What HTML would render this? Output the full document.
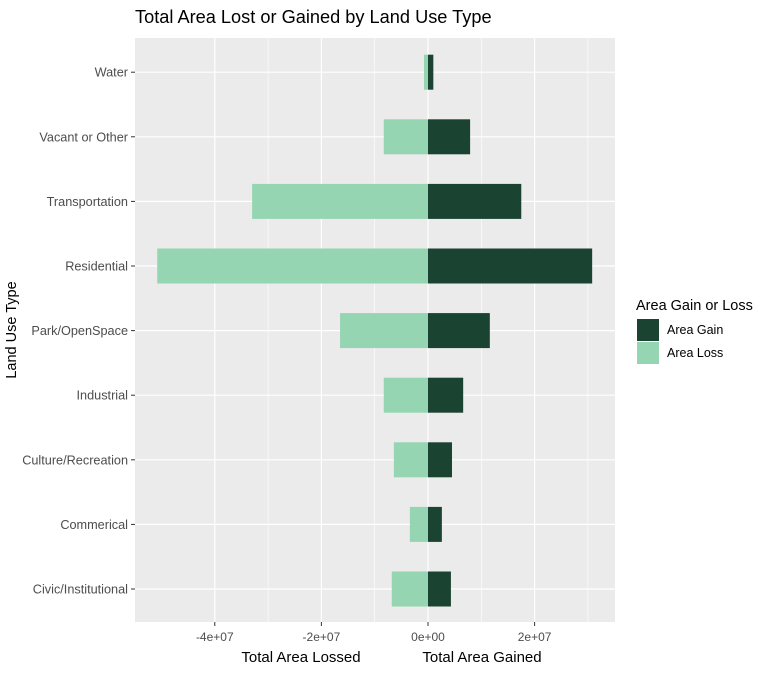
<!DOCTYPE html>
<html><head><meta charset="utf-8"><style>
body{margin:0;background:#fff;font-family:"Liberation Sans",Arial,sans-serif}
svg text{font-family:"Liberation Sans",Arial,sans-serif}
</style></head><body>
<svg id="c" width="768" height="672" xmlns="http://www.w3.org/2000/svg">
<text x="135" y="23" font-size="18.2" fill="#000">Total Area Lost or Gained by Land Use Type</text>
<rect x="135" y="38" width="480" height="584" fill="#EBEBEB"/>
<g id="grid"></g>
<g id="bars"></g>
<g id="axes"></g>
<text x="16" y="330" font-size="14.5" fill="#000" text-anchor="middle" transform="rotate(-90 16 330)">Land Use Type</text>
<text x="301" y="662" font-size="15" fill="#000" text-anchor="middle">Total Area Lossed</text>
<text x="482" y="662" font-size="15" fill="#000" text-anchor="middle">Total Area Gained</text>
<g>
<text x="636" y="310" font-size="14.5" fill="#000">Area Gain or Loss</text>
<rect x="637" y="319" width="22" height="22" fill="#1B4332"/>
<text x="667" y="334" font-size="12.5" fill="#000">Area Gain</text>
<rect x="637" y="342" width="22" height="22" fill="#95D5B2"/>
<text x="667" y="357" font-size="12.5" fill="#000">Area Loss</text>
</g>
</svg>
<script>
const categories=["Civic/Institutional","Commerical","Culture/Recreation","Industrial","Park/OpenSpace","Residential","Transportation","Vacant or Other","Water"];
const gainValues=[4.3e6,2.6e6,4.5e6,6.6e6,1.16e7,3.08e7,1.75e7,7.9e6,1.0e6];
const lossValues=[-6.8e6,-3.4e6,-6.4e6,-8.3e6,-1.65e7,-5.08e7,-3.3e7,-8.3e6,-7.5e5];
const xTicks=[-4e7,-2e7,0,2e7];
const xTickLabels=["-4e+07","-2e+07","0e+00","2e+07"];
const xMinor=[-3e7,-1e7,1e7,3e7];
const NS="http://www.w3.org/2000/svg";
const X0=428,PX=53.3e-7;
function xs(v){return X0+v*PX;}
function ys(i){return 589-i*64.6;}
function mk(t,a,p){const e=document.createElementNS(NS,t);for(const k in a)e.setAttribute(k,a[k]);p.appendChild(e);return e;}
const grid=document.getElementById('grid'),bars=document.getElementById('bars'),axes=document.getElementById('axes');
xMinor.forEach(v=>{const l=mk('line',{x1:xs(v),x2:xs(v),y1:38,y2:622,stroke:'#fff','stroke-width':0.6},grid);

});
xTicks.forEach((v,i)=>{const l=mk('line',{x1:xs(v),x2:xs(v),y1:38,y2:622,stroke:'#fff','stroke-width':1.2},grid);


const t=mk('line',{x1:xs(v),x2:xs(v),y1:622,y2:626,stroke:'#333','stroke-width':1},axes);


const tx=mk('text',{x:xs(v),y:641,'font-size':12,fill:'#4D4D4D','text-anchor':'middle'},axes);tx.textContent=xTickLabels[i];

});
categories.forEach((c,i)=>{const y=ys(i);
const l=mk('line',{x1:135,x2:615,y1:y,y2:y,stroke:'#fff','stroke-width':1.2},grid);


const h=35;
const lb=mk('rect',{x:xs(lossValues[i]),y:y-h/2,width:xs(0)-xs(lossValues[i]),height:h,fill:'#95D5B2'},bars);


const gb=mk('rect',{x:xs(0),y:y-h/2,width:xs(gainValues[i])-xs(0),height:h,fill:'#1B4332'},bars);


const t=mk('line',{x1:131,x2:135,y1:y,y2:y,stroke:'#333','stroke-width':1},axes);


const tx=mk('text',{x:128,y:y+4.5,'font-size':12.7,fill:'#4D4D4D','text-anchor':'end'},axes);tx.textContent=c;

});
</script>
</body></html>
